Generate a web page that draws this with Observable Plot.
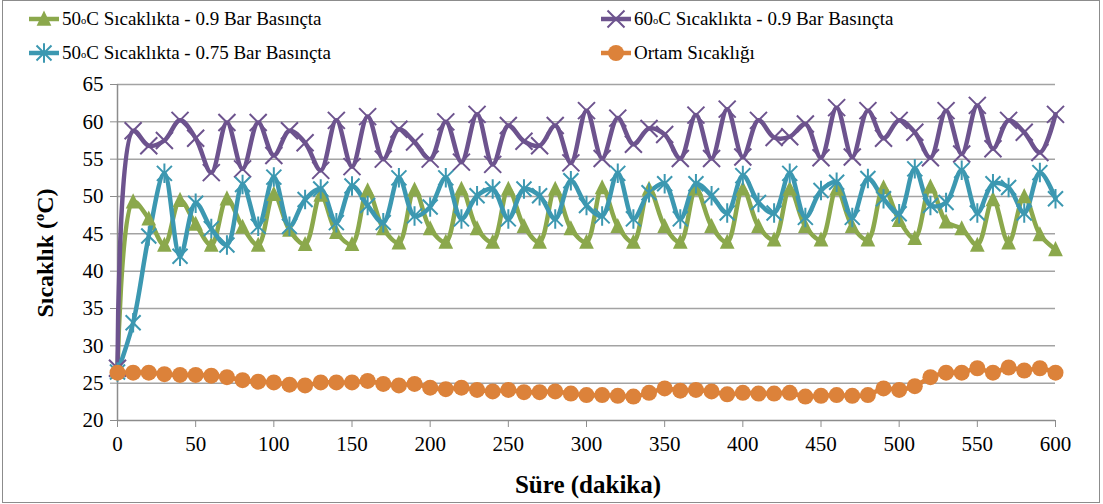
<!DOCTYPE html>
<html><head><meta charset="utf-8">
<script src="https://cdn.jsdelivr.net/npm/d3@7"></script>
<script src="https://cdn.jsdelivr.net/npm/@observablehq/plot@0.6"></script>
<style>
body{margin:0;background:#fff;}
#wrap{position:relative;width:1103px;height:504px;font-family:"Liberation Serif","Tinos","Times New Roman","DejaVu Serif",serif;color:#000;overflow:hidden;}
#frame{position:absolute;left:2px;top:0;width:1098px;height:503px;border:1.5px solid #8c8c8c;box-sizing:border-box;pointer-events:none;}
#chart{position:absolute;left:0;top:70px;}
.leg{position:absolute;display:flex;align-items:center;font-size:19px;white-space:nowrap;}
.leg svg{margin-right:3px;}
.deg{font-size:0.55em;vertical-align:0.05em;}
.sup{font-size:0.6em;vertical-align:0.6em;}
#ytitle{position:absolute;left:45px;top:253px;transform:translate(-50%,-50%) rotate(-90deg);font-weight:bold;font-size:24px;white-space:nowrap;}
#xtitle{position:absolute;left:588px;top:485px;transform:translate(-50%,-50%);font-weight:bold;font-size:25px;white-space:nowrap;}
#chart g[aria-label="x-axis tick"], #chart g[aria-label="y-axis tick"]{stroke:#8c8c8c;}
#chart g[aria-label="x-axis"] line, #chart g[aria-label="y-axis"] line{stroke:#8c8c8c;}
#chart svg text{font-family:"Liberation Serif","Tinos","Times New Roman","DejaVu Serif",serif;}
</style>
</head><body>
<div id="wrap">
  <div id="frame"></div>
  <div id="legend"></div>
  <div id="chart"></div>
  <div id="ytitle">Sıcaklık (<span class="sup">o</span>C)</div>
  <div id="xtitle">Süre (dakika)</div>
</div>
<script>
// ---- data ----
const minutes = [0,10,20,30,40,50,60,70,80,90,100,110,120,130,140,150,160,170,180,190,200,210,220,230,240,250,260,270,280,290,300,310,320,330,340,350,360,370,380,390,400,410,420,430,440,450,460,470,480,490,500,510,520,530,540,550,560,570,580,590,600];
const xTicks = [0,50,100,150,200,250,300,350,400,450,500,550,600];
const yTicks = [20,25,30,35,40,45,50,55,60,65];
const seriesKeys = ["g50_09","p60_09","b50_075","ortam"];
const seriesColors = ["#8ba84c","#6d538e","#3c98b1","#dc823a"];
const green50_09 = [26.5,49.3,47,43.5,49.5,46.3,43.5,49.7,45.9,43.5,50.3,45.5,43.6,50.2,45.2,43.6,50.8,45.7,43.8,50.9,45.7,43.9,51,45.7,43.9,51,46,43.9,51,45.7,43.9,51.2,46,43.9,51,46,43.9,51,46,43.9,51,46,44.2,51,46,44.2,51,46,44.2,51.2,46.8,44.4,51.3,46.6,45.7,43.5,49.6,43.8,50,44.9,42.9];
const purple60_09 = [27,58.8,56.8,57.5,60.2,57.8,53.2,59.9,53.7,59.9,55.5,58.8,57.2,53.5,60.2,54,60.7,55,59,57.3,55,60,54.6,61,54.3,59.5,57.4,56.8,59.5,54.5,61.5,55.1,60.5,57,59.1,58.3,55.1,60.9,55.1,61.7,55.3,60.2,57.9,58,59.7,55.2,61.9,55.3,61.5,57.8,60.2,58.6,55.2,61.5,55.7,62.2,56.4,60.2,58.6,55.9,61];
const blue50_075 = [26.5,33.1,44.7,53.1,42,49.1,45.7,43.5,51.6,46,52.6,46,49.6,51,46.5,51.4,48.8,46.5,52.5,47.4,48.6,52.5,47,50.1,51,47,51,50.1,47,52.1,48.8,47.4,53.1,47,50.5,51.7,47,51.7,50.1,47.8,52.8,49.2,47.8,53.1,47.2,50.8,51.9,47.2,52.4,49.7,47.7,53.7,48.8,49.2,53.5,47.8,51.7,51.2,47.8,53.2,49.7];
const ortam = [26.4,26.4,26.4,26.2,26.1,26.1,26,25.8,25.4,25.2,25.1,24.8,24.7,25.1,25.1,25.1,25.3,24.9,24.7,24.9,24.4,24.2,24.4,24.1,23.9,24.1,23.8,23.8,23.9,23.6,23.4,23.4,23.3,23.2,23.7,24.3,24,24.1,23.9,23.5,23.7,23.6,23.6,23.7,23.2,23.3,23.4,23.3,23.4,24.3,24.1,24.6,25.8,26.4,26.4,27,26.4,27.1,26.7,27,26.4];
const legendLabels = [
  ["50","C Sıcaklıkta - 0.9 Bar Basınçta"],
  ["60","C Sıcaklıkta - 0.9 Bar Basınçta"],
  ["50","C Sıcaklıkta - 0.75 Bar Basınçta"],
  [null,"Ortam Sıcaklığı"]
];

// ---- build table ----
const valuesBySeries = [green50_09, purple60_09, blue50_075, ortam];
const rows = [];
seriesKeys.forEach((k, i) => valuesBySeries[i].forEach((v, j) => rows.push({t: minutes[j], v, s: k})));

// ---- custom marker symbols ----
const symTri = {draw(c, size){const s=Math.sqrt(size/Math.PI); c.moveTo(0,-1.2*s); c.lineTo(1.05*s,0.95*s); c.lineTo(-1.05*s,0.95*s); c.closePath();}};
const symX = {draw(c, size){const s=Math.sqrt(size/Math.PI); c.moveTo(-s,-s); c.lineTo(s,s); c.moveTo(s,-s); c.lineTo(-s,s);}};
const symStar = {draw(c, size){const s=Math.sqrt(size/Math.PI); c.moveTo(-s,-s); c.lineTo(s,s); c.moveTo(s,-s); c.lineTo(-s,s); c.moveTo(0,-1.3*s); c.lineTo(0,1.3*s);}};
const circ = {draw(c, size){const s=Math.sqrt(size/Math.PI); c.moveTo(s,0); c.arc(0,0,s,0,2*Math.PI);}};
const markerDefs = [
  {sym: symTri, r: 7, fill: true},
  {sym: symX, r: 8.5, fill: false},
  {sym: symStar, r: 7.5, fill: false},
  {sym: circ, r: 8, fill: true}
];

const lineMarks = seriesKeys.map((k, i) => Plot.line(rows.filter(d => d.s === k), {x: "t", y: "v", stroke: seriesColors[i], strokeWidth: 4.5, strokeLinejoin: "round", curve: "catmull-rom"}));
const dotMarks = seriesKeys.map((k, i) => {
  const m = markerDefs[i];
  return Plot.dot(rows.filter(d => d.s === k), {x: "t", y: "v", symbol: m.sym, r: m.r,
    fill: m.fill ? seriesColors[i] : "none", stroke: seriesColors[i], strokeWidth: m.fill ? 0 : 2});
});

const chart = Plot.plot({
  width: 1103, height: 434,
  marginLeft: 117, marginRight: 48, marginTop: 14, marginBottom: 84,
  style: {fontFamily: "'Liberation Serif','Tinos','Times New Roman','DejaVu Serif',serif", fontSize: "21px", color: "#000", background: "transparent", overflow: "visible"},
  x: {domain: [0, 600], ticks: xTicks, tickSize: 7, tickPadding: 9, label: null, tickFormat: d => String(d)},
  y: {domain: [20, 65], ticks: yTicks, tickSize: 7, tickPadding: 7, label: null, tickFormat: d => String(d)},
  marks: [
    Plot.ruleY(yTicks.filter(d => d > 20), {stroke: "#a3a3a3", strokeWidth: 1.5}),
    Plot.ruleX([0], {stroke: "#8c8c8c", strokeWidth: 1.5}),
    Plot.ruleY([20], {stroke: "#8c8c8c", strokeWidth: 1.5}),
    ...lineMarks,
    ...dotMarks
  ]
});
document.getElementById("chart").appendChild(chart);

// ---- legend ----
const legPos = [[29, 6], [601, 6], [29, 40], [601, 40]];
const legend = document.getElementById("legend");
seriesKeys.forEach((k, i) => {
  const div = document.createElement("div");
  div.className = "leg";
  div.style.left = legPos[i][0] + "px";
  div.style.top = legPos[i][1] + "px";
  const m = markerDefs[i];
  const p = d3.path(); m.sym.draw(p, Math.PI * m.r * m.r);
  const svg = `<svg width="30" height="26" viewBox="-15 -13 30 26"><line x1="-15" x2="15" y1="0" y2="0" stroke="${seriesColors[i]}" stroke-width="4.5"/><path d="${p}" fill="${m.fill ? seriesColors[i] : "none"}" stroke="${seriesColors[i]}" stroke-width="${m.fill ? 0 : 2}"/></svg>`;
  const lab = legendLabels[i];
  const text = lab[0] ? `${lab[0]}<span class="deg">o</span>${lab[1]}` : lab[1];
  div.innerHTML = svg + `<span>${text}</span>`;
  legend.appendChild(div);
});
</script>
</body></html>
